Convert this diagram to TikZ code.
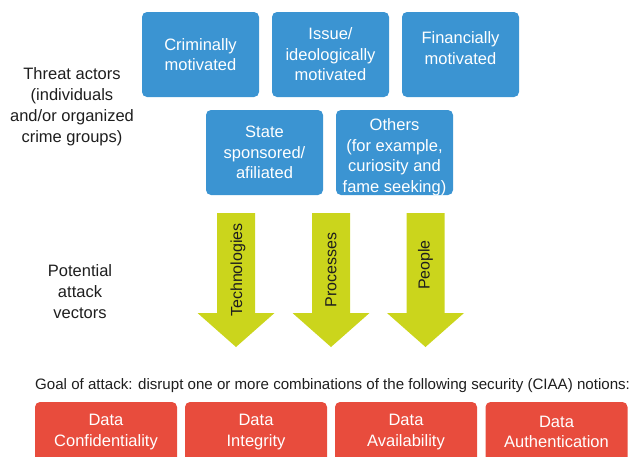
\documentclass[tikz,border=0pt]{standalone}
\usepackage{fontspec}
\setmainfont{Liberation Sans}
\definecolor{boxblue}{HTML}{3B94D2}
\definecolor{boxred}{HTML}{E84C3D}
\definecolor{vecgreen}{HTML}{CBD51C}
\definecolor{inktext}{HTML}{1E1E1E}
\tikzset{
  bluebox/.style={rectangle, rounded corners=5pt, fill=boxblue, text=white,
    minimum width=117pt, minimum height=85pt, inner sep=0pt, align=center,
    font=\fontsize{16.5}{20.5}\selectfont},
  redbox/.style={rectangle, rounded corners=5pt, fill=boxred, text=white,
    minimum width=142pt, minimum height=60pt, inner sep=0pt, align=center,
    font=\fontsize{16.5}{20.5}\selectfont},
  boxtext/.style={text=white, align=center, inner sep=0pt,
    font=\fontsize{16.5}{20.5}\selectfont},
  sidetext/.style={text=inktext, align=center, inner sep=0pt,
    font=\fontsize{16.5}{21}\selectfont},
  vectext/.style={text=inktext, inner sep=0pt, rotate=90,
    font=\fontsize{16}{19}\selectfont},
  goaltext/.style={text=inktext, inner sep=0pt,
    font=\fontsize{15.1}{18}\selectfont},
  vecarrow/.style={fill=vecgreen}
}
\begin{document}
\begin{tikzpicture}[x=1pt,y=-1pt]
\useasboundingbox (0,0) rectangle (637,456);
\clip (0,0) rectangle (637,456);

% left labels
\node[sidetext] (threat) at (72,106.5) {Threat actors\\(individuals\\and/or organized\\crime groups)};
\node[sidetext] (potential) at (80,291.5) {Potential\\attack\\vectors};

% threat actor boxes
\node[bluebox] (crim) at (200.5,54.5) {Criminally\\motivated};
\node[bluebox] (issue) at (330.5,54.5) {Issue/\\ideologically\\motivated};
\node[bluebox, label={[boxtext,yshift=6.5pt]center:{Financially\\motivated}}] (fin) at (460.5,54.5) {};
\node[bluebox] (state) at (264.5,152.5) {State\\sponsored/\\afiliated};
\node[bluebox, label={[boxtext,yshift=-4.5pt]center:{Others\\(for example,\\curiosity and\\fame seeking)}}] (others) at (394.5,152.5) {};

% attack vector arrows
\foreach \c in {236,331,425.5}{
  \fill[vecarrow] ({\c-19},213) -- ({\c+19},213) -- ({\c+19},313) -- ({\c+38.5},313)
    -- (\c,347) -- ({\c-38.5},313) -- ({\c-19},313) -- cycle;
}
\node[vectext] (tech) at (238,270) {Technologies};
\node[vectext] (proc) at (331,270) {Processes};
\node[vectext] (peop) at (425.5,265) {People};

% goal
\node[goaltext, anchor=base west] (goal) at (35,389) {Goal of attack: disrupt one or more combinations of the following security (CIAA) notions:};

% CIAA boxes
\node[redbox] (conf) at (106,432) {Data\\Confidentiality};
\node[redbox] (integ) at (256,432) {Data\\Integrity};
\node[redbox] (avail) at (406,432) {Data\\Availability};
\node[redbox] (auth) at (556.5,432) {Data\\Authentication};
\end{tikzpicture}
\end{document}
